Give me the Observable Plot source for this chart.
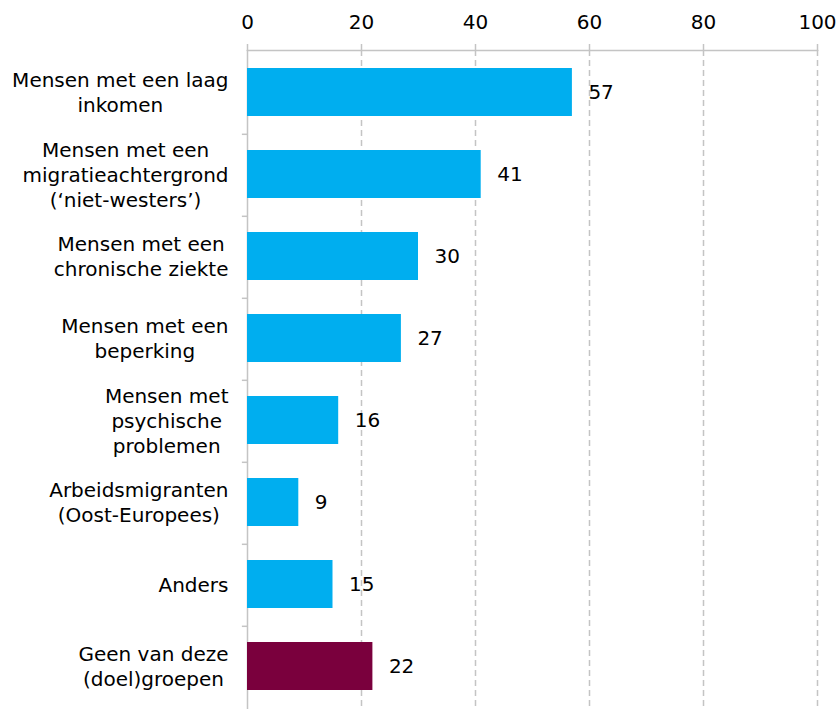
<!DOCTYPE html>
<html>
<head>
<meta charset="utf-8">
<script src="https://cdn.jsdelivr.net/npm/d3@7"></script>
<script src="https://cdn.jsdelivr.net/npm/@observablehq/plot@0.6"></script>
<style>
  html, body { margin: 0; padding: 0; background: #fff; }
  #chart { width: 838px; height: 709px; }
</style>
</head>
<body>
<div id="chart"></div>
<script>
const categories = [
  "Mensen met een laag\ninkomen",
  "Mensen met een\nmigratieachtergrond\n(‘niet-westers’)",
  "Mensen met een\nchronische ziekte",
  "Mensen met een\nbeperking",
  "Mensen met\npsychische\nproblemen",
  "Arbeidsmigranten\n(Oost-Europees)",
  "Anders",
  "Geen van deze\n(doel)groepen"
];
const values = [57, 41, 30, 27, 16, 9, 15, 22];
const groups = ["doel", "doel", "doel", "doel", "doel", "doel", "doel", "geen"];
const xTicks = [0, 20, 40, 60, 80, 100];

const data = categories.map((c, i) => ({category: c, value: values[i], group: groups[i]}));

const FONT = "DejaVu Sans";
const FS = 20;
const ctx = document.createElement("canvas").getContext("2d");
ctx.font = `${FS}px "${FONT}"`;
const blockWidth = c => Math.max(...c.split("\n").map(l => ctx.measureText(l).width));
const GAP = 19;
const STEP = (709 - 50) / categories.length;

const labelMarks = data.map(d => Plot.text([d], {
  x: () => 0,
  y: "category",
  text: "category",
  textAnchor: "middle",
  lineAnchor: "middle",
  lineHeight: 1.25,
  dx: -(GAP + blockWidth(d.category) / 2),
  dy: -2,
  fill: "#000",
  fontSize: FS
}));

const chart = Plot.plot({
  width: 838,
  height: 709,
  marginTop: 50,
  marginBottom: 0,
  marginLeft: 247,
  marginRight: 21,
  style: {fontFamily: FONT, fontSize: FS + "px", color: "#000", background: "#fff"},
  x: {domain: [0, 100], axis: null},
  y: {domain: categories, paddingInner: 0.42, paddingOuter: 0.21, axis: null},
  color: {domain: ["doel", "geen"], range: ["#00AEEF", "#7A003D"]},
  marks: [
    Plot.ruleX(xTicks.filter(t => t > 0), {stroke: "#c4c4c4", strokeWidth: 1.5, strokeDasharray: "6,4"}),
    Plot.axisX({anchor: "top", ticks: xTicks, tickSize: 7, tickPadding: 15, stroke: "#c4c4c4", strokeWidth: 1.5, fontSize: FS, label: null, tickFormat: d => d}),
    Plot.frame({anchor: "top", stroke: "#c4c4c4", strokeWidth: 1.5}),
    Plot.ruleX([0], {stroke: "#c4c4c4", strokeWidth: 1.5}),
    Plot.ruleY(categories.slice(1), {y: d => d, x1: () => -0.9, x2: () => 0, dy: -STEP / 2, stroke: "#c4c4c4", strokeWidth: 1.5}),
    Plot.barX(data, {x: "value", y: "category", fill: "group", dy: -1}),
    Plot.text(data, {x: "value", y: "category", text: d => String(d.value), textAnchor: "start", dx: 16, dy: -1, fill: "#000", fontSize: FS}),
    ...labelMarks
  ]
});
document.getElementById("chart").appendChild(chart);
</script>
</body>
</html>
